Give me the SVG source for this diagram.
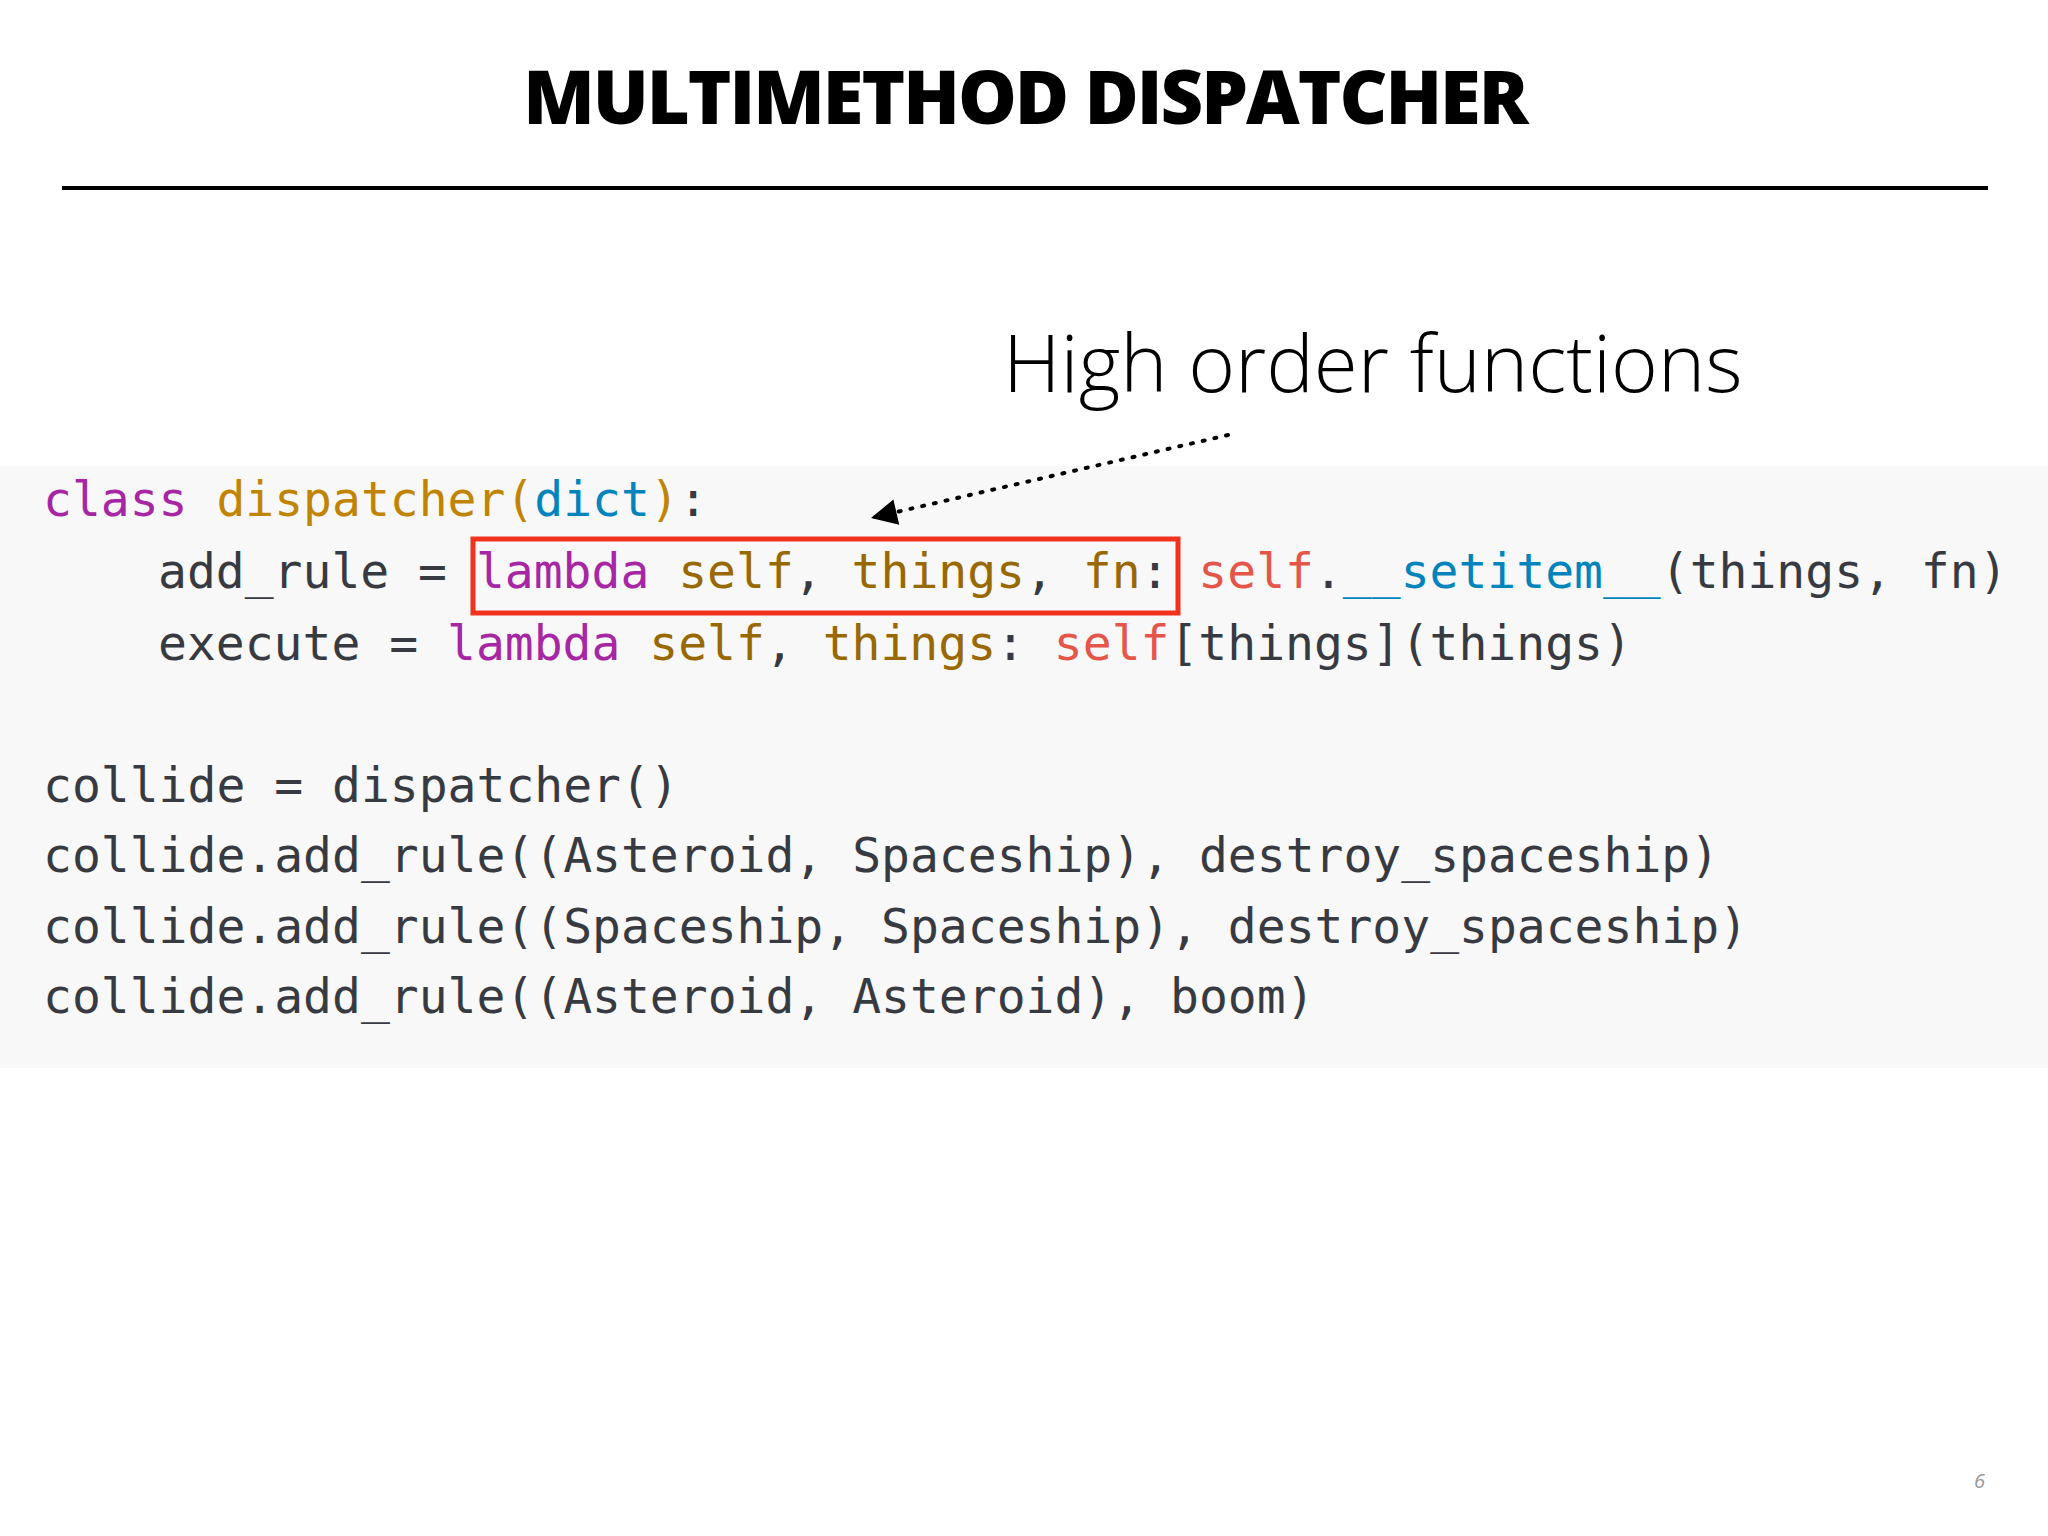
<svg xmlns="http://www.w3.org/2000/svg" width="2048" height="1536" viewBox="0 0 2048 1536">
<style>
.c{font-family:"DejaVu Sans Mono",monospace;font-size:48px;fill:#383a42;white-space:pre}
.k{fill:#a626a4}.t{fill:#c18401}.p{fill:#986801}.b{fill:#0184bc}.r{fill:#e45649}
</style>
<defs><marker id="ah" markerWidth="10" markerHeight="10" refX="9" refY="5" orient="auto" markerUnits="userSpaceOnUse" viewBox="0 0 10 10"><path d="M0,0 L10,5 L0,10 z" fill="#000" transform="scale(1)"/></marker>
<marker id="ah2" viewBox="0 0 10 10" refX="10" refY="5" markerWidth="30" markerHeight="26" markerUnits="userSpaceOnUse" orient="auto"><path d="M0,0 L10,5 L0,10 z" fill="#000"/></marker></defs>
<rect width="2048" height="1536" fill="#fff"/>
<g id="title"><text x="1025" y="124" text-anchor="middle" font-family="Open Sans,sans-serif" font-weight="800" font-size="74" fill="#000" letter-spacing="-2">MULTIMETHOD DISPATCHER</text>
<line x1="62" y1="188" x2="1988" y2="188" stroke="#000" stroke-width="4"/></g>
<rect id="code-bg" x="0" y="466" width="2048" height="602" fill="#f8f8f8"/>
<g id="label"><text x="1003" y="392" font-family="Open Sans,sans-serif" font-weight="300" font-size="80" fill="#000">High order functions</text></g>
<g id="code">
<text class="c" x="43" y="516"><tspan class="k">class</tspan> <tspan class="t">dispatcher(</tspan><tspan class="b">dict</tspan><tspan class="t">)</tspan>:</text>
<text class="c" x="158" y="588">add_rule = <tspan class="k">lambda</tspan> <tspan class="p">self</tspan>, <tspan class="p">things</tspan>, <tspan class="p">fn</tspan>: <tspan class="r">self</tspan>.<tspan class="b">__setitem__</tspan>(things, fn)</text>
<text class="c" x="158" y="660">execute = <tspan class="k">lambda</tspan> <tspan class="p">self</tspan>, <tspan class="p">things</tspan>: <tspan class="r">self</tspan>[things](things)</text>
<text class="c" x="43" y="802">collide = dispatcher()</text>
<text class="c" x="43" y="872">collide.add_rule((Asteroid, Spaceship), destroy_spaceship)</text>
<text class="c" x="43" y="943">collide.add_rule((Spaceship, Spaceship), destroy_spaceship)</text>
<text class="c" x="43" y="1013">collide.add_rule((Asteroid, Asteroid), boom)</text>
</g>
<g id="highlight"><rect x="473" y="539" width="705" height="74" fill="none" stroke="#f0321e" stroke-width="5"/></g>
<g id="connectors"><path d="M1228,435 L871,518" stroke="#000" stroke-width="4" stroke-dasharray="2,10" stroke-linecap="round" fill="none" marker-end="url(#ah2)"/></g>
<text x="1974" y="1488" font-family="Open Sans,sans-serif" font-style="italic" font-size="20" fill="#999">6</text>
</svg>
